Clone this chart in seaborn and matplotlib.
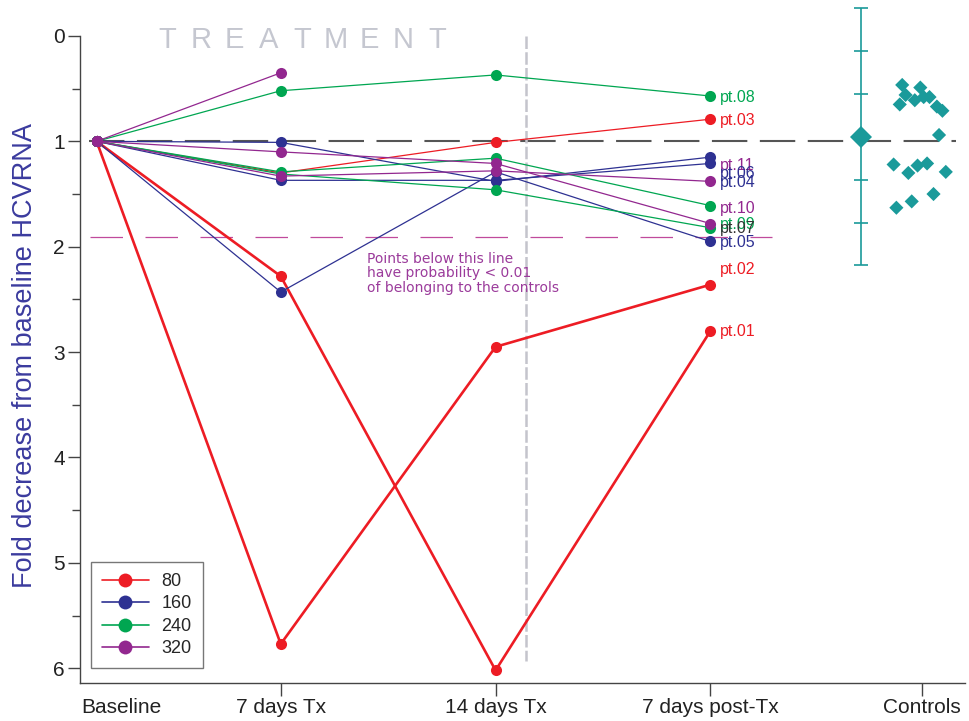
import numpy as np
import pandas as pd
import matplotlib.pyplot as plt
import seaborn as sns
from matplotlib.lines import Line2D

# Du lieu doc tu hinh
timepoints = ['Baseline', '7 days Tx', '14 days Tx', '7 days post-Tx']
day_pos = [1, 7, 14, 21]
controls_pos = 28
tick_labels = timepoints + ['Controls']
tick_label_pos = [1.82, 7, 14, 21, 27.9]

doses = [80, 160, 240, 320]
dose_colors = ['#ed1c24', '#2e3192', '#00a651', '#92278f']

# tung benh nhan: (lieu, gia tri tai 4 moc)
patient_dose = [80, 80, 80, 160, 160, 160, 240, 240, 240, 320, 320, 320]
patient_values = [
    [1, 2.28, 6.02, 2.80],
    [1, 5.77, 2.95, 2.36],
    [1, 1.30, 1.01, 0.79],
    [1, 1.01, 1.38, 1.15],
    [1, 2.43, 1.29, 1.95],
    [1, 1.37, 1.37, 1.21],
    [1, 0.52, 0.37, 0.57],
    [1, 1.29, 1.16, 1.61],
    [1, 1.31, 1.46, 1.82],
    [1, 0.35, np.nan, np.nan],
    [1, 1.10, 1.21, 1.78],
    [1, 1.33, 1.28, 1.38],
]
patient_lw = [1.9, 1.9, 0.9, 0.9, 0.9, 0.9, 0.9, 0.9, 0.9, 0.9, 0.9, 0.9]

# nhan o cuoi duong
end_labels = ['pt.08', 'pt.03', 'pt.11', 'pt.06', 'pt.04', 'pt.10',
              'pt.09', 'pt.07', 'pt.05', 'pt.02', 'pt.01']
end_label_y = [0.58, 0.80, 1.23, 1.31, 1.39, 1.64, 1.79, 1.83, 1.96, 2.22, 2.80]
end_label_colors = ['#00a651', '#ed1c24', '#92278f', '#2e3192', '#2e3192', '#92278f',
                    '#00a651', '#333333', '#2e3192', '#ed1c24', '#ed1c24']

# nhom chung
control_x = [27.25, 27.36, 27.17, 27.84, 27.66, 27.95, 28.14, 28.38, 28.56,
             28.45, 26.97, 27.45, 27.75, 28.06, 28.67, 28.27, 27.56, 27.06]
control_y = [0.465, 0.56, 0.65, 0.49, 0.61, 0.58, 0.58, 0.67, 0.71,
             0.94, 1.22, 1.30, 1.23, 1.21, 1.29, 1.50, 1.57, 1.63]
control_bar_x = 25.9

threshold = 1.91
treatment_end = 15

rows = []
for i, (d, vals) in enumerate(zip(patient_dose, patient_values)):
    for x, v in zip(day_pos, vals):
        rows.append({'patient': i, 'dose': d, 'day': x, 'fold': v})
data = pd.DataFrame(rows)

sns.set_style('ticks')
plt.rcParams['font.family'] = ['Liberation Sans', 'DejaVu Sans']

fig, ax = plt.subplots(figsize=(9.69, 7.21), dpi=100)
fig.subplots_adjust(left=0.0826, right=0.996, bottom=0.0527, top=0.994)

color_of = dict(zip(doses, dose_colors))

# duong ngang tham chieu
ax.axhline(1, xmin=0.01, xmax=0.99, color='#555555', lw=1.5,
           linestyle=(0, (17, 6)), zorder=1)
ax.hlines(threshold, 0.8, 23.0, color='#c04a9c', lw=0.9,
          linestyle=(0, (26, 18)), zorder=1)
ax.vlines(treatment_end, 0.0, 5.93, color='#c4c4cc', lw=1.8,
          linestyle=(0, (5, 1.3)), zorder=1)

# ve tung benh nhan theo lieu
for d in doses:
    for i in range(len(patient_values)):
        if patient_dose[i] != d:
            continue
        sub = data[data['patient'] == i].dropna()
        sns.lineplot(data=sub, x='day', y='fold', color=color_of[d],
                     lw=patient_lw[i], marker='o', markersize=8,
                     markeredgewidth=0, ax=ax, zorder=3)

for txt, y, c in zip(end_labels, end_label_y, end_label_colors):
    ax.text(21.3, y, txt, color=c, fontsize=11.5, ha='left', va='center')

# nhom chung: thanh sai so +-1,2,3 SD
cmean = np.mean(control_y)
csd = np.std(control_y, ddof=1)
teal = '#1a9a9a'
ax.vlines(control_bar_x, cmean - 3 * csd, cmean + 3 * csd, color=teal, lw=1.2)
for k in range(-3, 4):
    ax.hlines(cmean + k * csd, control_bar_x - 0.23, control_bar_x + 0.23,
              color=teal, lw=1.2)
ax.plot([control_bar_x], [cmean], marker='D', markersize=11, color=teal,
        markeredgewidth=0, zorder=4)
sns.scatterplot(x=control_x, y=control_y, marker='D', s=52, color=teal,
                edgecolor='none', ax=ax, zorder=4)

# chu TREATMENT
for j, ch in enumerate('TREATMENT'):
    ax.text(3.29 + j * 1.1, 0.04, ch, color='#c5c7d0', fontsize=21,
            ha='center', va='center')

ax.text(9.8, 2.05, 'Points below this line\nhave probability < 0.01\nof belonging to the controls',
        color='#9b3b9b', fontsize=10, family=['DejaVu Sans'], ha='left',
        va='top', linespacing=1.03)

ax.set_xlim(0.46, 29.3)
ax.set_ylim(6.14, -0.3)
ax.set_yticks(range(7))
ax.set_yticks(np.arange(0.5, 6, 1), minor=True)
ax.set_xticks(tick_label_pos)
ax.set_xticklabels(tick_labels)
ax.xaxis.get_major_ticks()[0].tick1line.set_visible(False)

sns.despine(ax=ax)
ax.spines['left'].set_bounds(0, 6.14)
for s in ['left', 'bottom']:
    ax.spines[s].set_color('#444444')
    ax.spines[s].set_linewidth(1)
ax.tick_params(axis='both', which='major', direction='out', length=9,
               width=1, color='#444444', labelsize=15, labelcolor='#222222', pad=2)
ax.tick_params(axis='y', which='minor', direction='out', length=6, width=1,
               color='#444444')
ax.set_xlabel('')
ax.set_ylabel('Fold decrease from baseline HCVRNA', fontsize=19.5,
              color='#3b3b9e')
ax.yaxis.set_label_coords(-0.047, 0.482)

handles = [Line2D([0], [0], color=c, lw=1.2, marker='o', markersize=10,
                  markeredgewidth=0) for c in dose_colors]
leg = ax.legend(handles, [str(d) for d in doses], loc='lower left',
                bbox_to_anchor=(0.0124, 0.022), borderaxespad=0, fontsize=13,
                frameon=True, fancybox=False, edgecolor='#555555',
                handlelength=2.6, borderpad=0.6, labelspacing=0.3,
                handletextpad=0.7)
leg.get_frame().set_linewidth(1)

plt.savefig('out.png', dpi=100)
